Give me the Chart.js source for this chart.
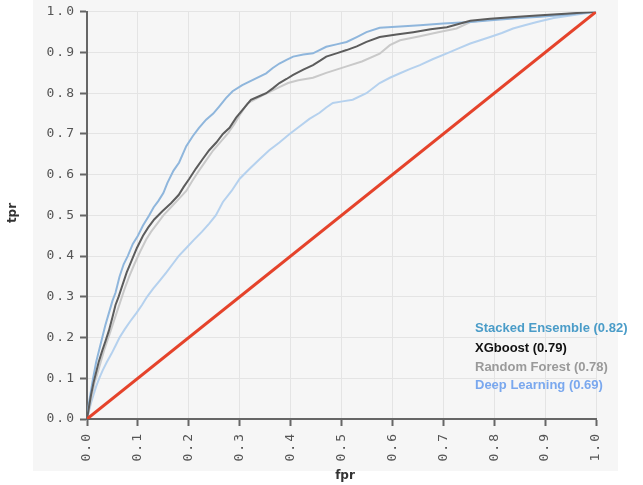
<!DOCTYPE html>
<html><head><meta charset="utf-8">
<script src="https://cdn.jsdelivr.net/npm/chart.js@4/dist/chart.umd.min.js"></script>
<style>html,body{margin:0;padding:0;background:#fff}#wrap{width:643px;height:485px;position:relative}</style>
</head><body><div id="wrap"><canvas id="c" width="643" height="485"></canvas></div>
<script>
const axisTicks = [0,0.1,0.2,0.3,0.4,0.5,0.6,0.7,0.8,0.9,1.0];
const seriesNames = ["Stacked Ensemble (0.82)","XGboost (0.79)","Random Forest (0.78)","Deep Learning (0.69)"];
const diagFpr = [0,1];
const diagTpr = [0,1];
const seFpr = [0,0.004,0.008,0.012,0.018,0.024,0.03,0.036,0.043,0.05,0.056,0.064,0.072,0.08,0.09,0.1,0.11,0.122,0.131,0.14,0.15,0.158,0.17,0.181,0.195,0.208,0.22,0.234,0.248,0.26,0.273,0.286,0.305,0.326,0.352,0.365,0.378,0.392,0.405,0.425,0.444,0.47,0.49,0.51,0.53,0.549,0.575,0.615,0.654,0.7,0.753,0.8,0.85,0.891,0.94,1];
const seTpr = [0,0.04,0.07,0.10,0.14,0.17,0.2,0.23,0.26,0.29,0.31,0.35,0.38,0.4,0.43,0.45,0.475,0.5,0.52,0.535,0.555,0.58,0.61,0.63,0.67,0.695,0.715,0.735,0.75,0.768,0.788,0.805,0.82,0.833,0.849,0.862,0.873,0.882,0.89,0.895,0.898,0.914,0.92,0.926,0.938,0.95,0.961,0.964,0.967,0.971,0.975,0.98,0.985,0.988,0.993,1];
const xgFpr = [0,0.004,0.008,0.013,0.017,0.023,0.03,0.036,0.043,0.05,0.056,0.062,0.07,0.078,0.088,0.098,0.11,0.12,0.132,0.148,0.165,0.18,0.19,0.201,0.214,0.227,0.24,0.254,0.267,0.28,0.293,0.306,0.322,0.337,0.352,0.365,0.378,0.392,0.405,0.425,0.444,0.458,0.47,0.49,0.51,0.53,0.549,0.575,0.608,0.641,0.675,0.707,0.73,0.753,0.792,0.84,0.884,0.94,1];
const xgTpr = [0,0.03,0.06,0.09,0.11,0.14,0.168,0.19,0.217,0.25,0.28,0.3,0.33,0.36,0.39,0.42,0.45,0.47,0.49,0.51,0.53,0.55,0.57,0.59,0.615,0.638,0.66,0.679,0.7,0.715,0.74,0.76,0.784,0.792,0.8,0.812,0.825,0.835,0.845,0.858,0.869,0.88,0.89,0.898,0.906,0.915,0.926,0.938,0.944,0.95,0.957,0.962,0.97,0.978,0.983,0.987,0.991,0.995,1];
const rfFpr = [0,0.005,0.01,0.015,0.02,0.027,0.034,0.042,0.05,0.058,0.066,0.074,0.083,0.093,0.104,0.116,0.126,0.138,0.15,0.165,0.18,0.195,0.207,0.22,0.234,0.248,0.262,0.276,0.29,0.302,0.315,0.33,0.345,0.362,0.378,0.395,0.415,0.444,0.47,0.49,0.51,0.54,0.575,0.595,0.615,0.654,0.69,0.726,0.753,0.8,0.85,0.9,0.95,1];
const rfTpr = [0,0.03,0.06,0.09,0.11,0.14,0.17,0.2,0.23,0.26,0.29,0.32,0.35,0.38,0.41,0.44,0.46,0.48,0.5,0.52,0.54,0.56,0.585,0.61,0.635,0.66,0.68,0.7,0.725,0.75,0.775,0.785,0.795,0.805,0.815,0.825,0.832,0.838,0.85,0.858,0.866,0.878,0.897,0.918,0.93,0.94,0.95,0.959,0.975,0.982,0.986,0.99,0.995,1];
const dlFpr = [0,0.004,0.008,0.013,0.018,0.024,0.031,0.039,0.048,0.056,0.064,0.074,0.085,0.097,0.108,0.118,0.13,0.143,0.156,0.168,0.18,0.195,0.21,0.226,0.24,0.253,0.267,0.284,0.3,0.32,0.339,0.358,0.378,0.398,0.418,0.437,0.457,0.47,0.483,0.502,0.522,0.549,0.575,0.595,0.615,0.635,0.654,0.68,0.707,0.73,0.753,0.792,0.815,0.837,0.86,0.884,0.917,0.96,1];
const dlTpr = [0,0.02,0.04,0.06,0.08,0.1,0.12,0.14,0.16,0.18,0.2,0.22,0.24,0.26,0.28,0.3,0.32,0.34,0.36,0.38,0.4,0.42,0.44,0.46,0.48,0.5,0.533,0.56,0.59,0.615,0.638,0.66,0.679,0.7,0.719,0.737,0.752,0.765,0.776,0.78,0.784,0.8,0.825,0.838,0.849,0.86,0.869,0.884,0.898,0.91,0.922,0.938,0.948,0.959,0.967,0.975,0.985,0.993,1];

const pts = (xs, ys) => xs.map((x, i) => ({x: x, y: ys[i]}));
const legendColors = ['#4a9cc8','#111111','#9a9a9a','#7aa8ee'];

const deco = {
  id: 'deco',
  beforeDraw(chart) {
    const c = chart.ctx;
    c.save();
    c.fillStyle = '#f6f6f6';
    c.fillRect(33, 0, 585, 471);
    c.restore();
    c.letterSpacing = '2px';
  },
  afterDraw(chart) {
    const c = chart.ctx;
    c.save();
    c.letterSpacing = '0px';
    c.fillStyle = '#333';
    c.font = 'bold 12px "DejaVu Sans"';
    c.textAlign = 'center';
    c.textBaseline = 'middle';
    c.fillText('fpr', 345, 476);
    c.save();
    c.translate(13, 213);
    c.rotate(-Math.PI / 2);
    c.fillText('tpr', 0, 0);
    c.restore();
    c.font = 'bold 13px "Liberation Sans"';
    c.textAlign = 'left';
    const ys = [328, 348, 367, 385];
    seriesNames.forEach((n, i) => { c.fillStyle = legendColors[i]; c.fillText(n, 475, ys[i]); });
    c.restore();
  }
};

const mk = (label, data, color, w) => ({label, data, borderColor: color, backgroundColor: color, borderWidth: w, pointRadius: 0, showLine: true, tension: 0, fill: false});

new Chart(document.getElementById('c'), {
  type: 'scatter',
  data: {
    datasets: [
      mk('Random', pts(diagFpr, diagTpr), '#e5432b', 3),
      mk(seriesNames[1], pts(xgFpr, xgTpr), '#5c5c5c', 2),
      mk(seriesNames[0], pts(seFpr, seTpr), '#8fb6dc', 2),
      mk(seriesNames[2], pts(rfFpr, rfTpr), '#c9c9c9', 2),
      mk(seriesNames[3], pts(dlFpr, dlTpr), '#b5d1ee', 2)
    ]
  },
  options: {
    responsive: false,
    animation: false,
    devicePixelRatio: 1,
    layout: {padding: {left: 0, right: 47, top: 8, bottom: 0}},
    plugins: {legend: {display: false}, tooltip: {enabled: false}},
    scales: {
      x: {
        type: 'linear', min: 0, max: 1,
        afterBuildTicks: s => { s.ticks = axisTicks.map(v => ({value: v})); },
        afterFit: s => { s.height = 66; },
        grid: {color: '#e4e4e4', lineWidth: 1, tickColor: '#666', tickWidth: 2, tickLength: 7},
        border: {color: '#666', width: 2},
        ticks: {minRotation: 90, maxRotation: 90, padding: 6, color: '#555', font: {family: '"DejaVu Sans Mono"', size: 13}, callback: v => v.toFixed(1)}
      },
      y: {
        type: 'linear', min: 0, max: 1,
        afterBuildTicks: s => { s.ticks = axisTicks.map(v => ({value: v})); },
        afterFit: s => { s.width = 87; },
        grid: {color: '#e4e4e4', lineWidth: 1, tickColor: '#666', tickWidth: 2, tickLength: 7},
        border: {color: '#666', width: 2},
        ticks: {padding: 4, color: '#555', font: {family: '"DejaVu Sans Mono"', size: 13}, callback: v => v.toFixed(1)}
      }
    }
  },
  plugins: [deco]
});
</script>
</body></html>
